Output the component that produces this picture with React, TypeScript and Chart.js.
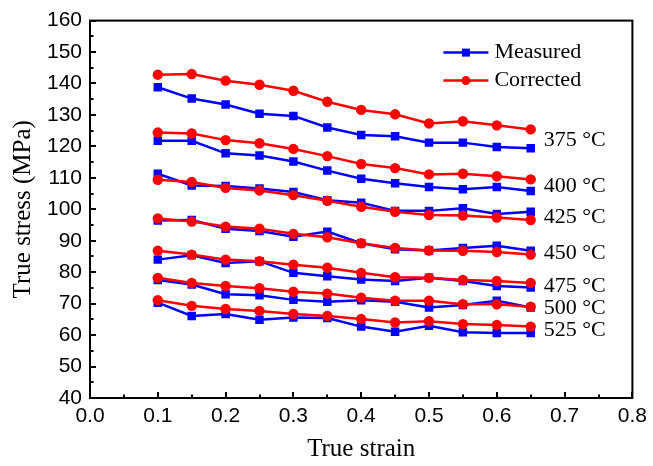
import React, { useEffect, useRef } from 'react';
import { Chart, registerables } from 'chart.js';

Chart.register(...registerables);

// ---- data ----
const strain = [0.1, 0.15, 0.2, 0.25, 0.3, 0.35, 0.4, 0.45, 0.5, 0.55, 0.6, 0.65];
const temperatures = ['375 °C', '400 °C', '425 °C', '450 °C', '475 °C', '500 °C', '525 °C'];

const measured375 = [138.8, 135.2, 133.3, 130.4, 129.7, 126.0, 123.6, 123.2, 121.2, 121.2, 119.8, 119.4];
const measured400 = [121.8, 121.8, 117.8, 117.1, 115.2, 112.3, 109.7, 108.3, 107.1, 106.4, 107.1, 105.8];
const measured425 = [111.3, 107.6, 107.4, 106.6, 105.5, 102.9, 102.1, 99.5, 99.5, 100.3, 98.5, 99.2];
const measured450 = [96.4, 96.6, 93.8, 93.1, 91.3, 92.9, 89.2, 87.3, 86.9, 87.7, 88.4, 86.8];
const measured475 = [84.0, 85.4, 82.9, 83.5, 79.8, 78.7, 77.7, 77.2, 78.2, 77.2, 75.6, 75.1];
const measured500 = [77.5, 76.1, 73.0, 72.7, 71.2, 70.6, 71.1, 70.6, 68.8, 69.6, 70.9, 68.8];
const measured525 = [70.3, 66.1, 66.7, 64.9, 65.6, 65.4, 62.7, 61.1, 63.0, 60.9, 60.7, 60.7];

const corrected375 = [142.8, 143.0, 140.9, 139.6, 137.7, 134.2, 131.6, 130.2, 127.3, 128.0, 126.7, 125.4];
const corrected400 = [124.4, 124.1, 122.0, 121.0, 119.2, 116.9, 114.4, 113.1, 111.1, 111.3, 110.5, 109.5];
const corrected425 = [109.4, 108.7, 106.8, 106.0, 104.5, 102.7, 100.8, 99.2, 98.2, 98.0, 97.4, 96.6];
const corrected450 = [97.1, 96.1, 94.5, 93.8, 92.2, 91.1, 89.2, 87.7, 86.9, 86.8, 86.4, 85.6];
const corrected475 = [86.8, 85.6, 84.0, 83.5, 82.4, 81.4, 79.8, 78.4, 78.2, 77.5, 77.2, 76.6];
const corrected500 = [78.2, 76.6, 75.6, 74.9, 73.8, 73.2, 71.9, 70.9, 70.9, 69.8, 69.8, 69.0];
const corrected525 = [71.1, 69.3, 68.3, 67.7, 66.7, 66.1, 65.1, 64.0, 64.4, 63.5, 63.2, 62.7];

const measuredSeries = [measured375, measured400, measured425, measured450, measured475, measured500, measured525];
const correctedSeries = [corrected375, corrected400, corrected425, corrected450, corrected475, corrected500, corrected525];

const legendLabels = ['Measured', 'Corrected'];
const xAxisTitle = 'True strain';
const yAxisTitle = 'True stress (MPa)';

const BLUE = '#0000ff';
const RED = '#ff0000';
const SANS = "'Liberation Sans', Arial, sans-serif";
const SERIF = "'Liberation Serif', 'Times New Roman', serif";

const toPoints = (vals: number[]) => vals.map((v, i) => ({ x: strain[i], y: v }));

const decorPlugin = {
  id: 'decor',
  afterDraw(chart: any) {
    const { ctx, chartArea, scales } = chart;
    const { left, right, top, bottom } = chartArea;
    const xs = scales.x;
    const ys = scales.y;
    ctx.save();
    // frame
    ctx.strokeStyle = '#000';
    ctx.lineWidth = 2;
    ctx.strokeRect(left, top, right - left, bottom - top);
    // x ticks (inward)
    for (let i = 0; i <= 16; i++) {
      const px = Math.round(xs.getPixelForValue(i * 0.05));
      const len = i % 2 === 0 ? 6 : 3.5;
      ctx.beginPath();
      ctx.moveTo(px, bottom);
      ctx.lineTo(px, bottom - len);
      ctx.stroke();
    }
    // y ticks (inward)
    for (let i = 0; i <= 24; i++) {
      const py = Math.round(ys.getPixelForValue(40 + i * 5));
      const len = i % 2 === 0 ? 6 : 3.5;
      ctx.beginPath();
      ctx.moveTo(left, py);
      ctx.lineTo(left + len, py);
      ctx.stroke();
    }
    // temperature labels near line ends
    const last = strain.length - 1;
    ctx.fillStyle = '#000';
    ctx.font = `22px ${SERIF}`;
    ctx.textAlign = 'left';
    ctx.textBaseline = 'middle';
    temperatures.forEach((t, g) => {
      const v = (measuredSeries[g][last] + correctedSeries[g][last]) / 2 - 0.3;
      const px = xs.getPixelForValue(strain[last]) + 13;
      const py = ys.getPixelForValue(v);
      ctx.fillText(t, px, py);
    });
    // legend
    const colors = [BLUE, RED];
    legendLabels.forEach((lab, k) => {
      const ly = top + 32 + k * 28;
      const lx0 = right - 189;
      const lx1 = right - 144;
      ctx.strokeStyle = colors[k];
      ctx.lineWidth = 2.5;
      ctx.beginPath();
      ctx.moveTo(lx0, ly);
      ctx.lineTo(lx1, ly);
      ctx.stroke();
      ctx.fillStyle = colors[k];
      const cx = (lx0 + lx1) / 2;
      if (k === 0) {
        ctx.fillRect(cx - 4, ly - 4, 8, 8);
      } else {
        ctx.beginPath();
        ctx.arc(cx, ly, 4.5, 0, Math.PI * 2);
        ctx.fill();
      }
      ctx.fillStyle = '#000';
      ctx.font = `22px ${SERIF}`;
      ctx.textBaseline = 'middle';
      ctx.fillText(lab, lx1 + 6, ly);
    });
    ctx.restore();
  },
};

export default function App() {
  const ref = useRef<HTMLCanvasElement | null>(null);
  useEffect(() => {
    document.body.style.margin = '0';
    const canvas = ref.current;
    if (!canvas) return;
    const datasets: any[] = [];
    correctedSeries.forEach((s, g) => {
      datasets.push({
        label: `Corrected ${temperatures[g]}`,
        data: toPoints(s),
        borderColor: RED,
        backgroundColor: RED,
        borderWidth: 2.5,
        pointStyle: 'circle',
        pointRadius: 5.2,
        pointBorderWidth: 0,
        order: 0,
      });
    });
    measuredSeries.forEach((s, g) => {
      datasets.push({
        label: `Measured ${temperatures[g]}`,
        data: toPoints(s),
        borderColor: BLUE,
        backgroundColor: BLUE,
        borderWidth: 2.5,
        pointStyle: 'rect',
        pointRadius: 6,
        pointBorderWidth: 0,
        order: 1,
      });
    });
    const chart = new Chart(canvas, {
      type: 'line',
      data: { datasets },
      options: {
        animation: false,
        responsive: false,
        devicePixelRatio: 1,
        layout: { padding: { top: 17, right: 19, left: 0, bottom: 0 } },
        plugins: { legend: { display: false }, tooltip: { enabled: false } },
        scales: {
          x: {
            type: 'linear',
            min: 0,
            max: 0.8,
            grid: { display: false, drawTicks: false },
            border: { display: false },
            ticks: {
              stepSize: 0.1,
              color: '#000',
              padding: 6,
              maxRotation: 0,
              font: { family: SANS, size: 21 },
              callback: (v: any) => Number(v).toFixed(1),
            },
            title: {
              display: true,
              text: xAxisTitle,
              color: '#000',
              font: { family: SERIF, size: 25 },
              padding: { top: 0, bottom: 2 },
            },
            afterFit: (s: any) => { s.height = 68; },
          },
          y: {
            type: 'linear',
            min: 40,
            max: 160,
            grid: { display: false, drawTicks: false },
            border: { display: false },
            ticks: {
              stepSize: 10,
              color: '#000',
              padding: 8,
              font: { family: SANS, size: 21 },
            },
            title: {
              display: true,
              text: yAxisTitle,
              color: '#000',
              font: { family: SERIF, size: 25 },
              padding: { top: 8, bottom: 0 },
            },
            afterFit: (s: any) => { s.width = 90; },
          },
        },
      },
      plugins: [decorPlugin],
    });
    return () => chart.destroy();
  }, []);
  return <canvas ref={ref} width={653} height={466} style={{ display: 'block' }} />;
}
